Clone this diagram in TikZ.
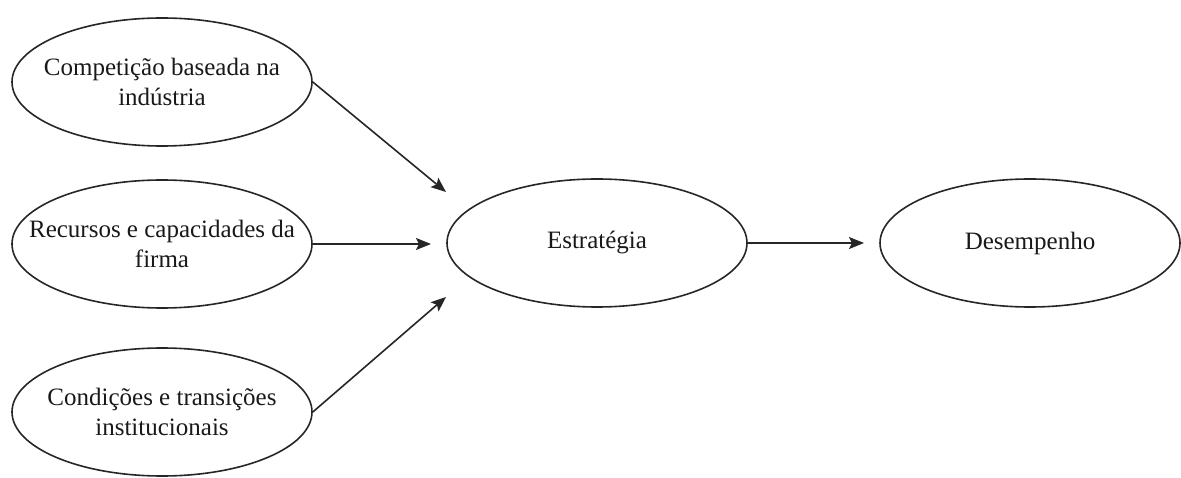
\documentclass[tikz,border=0pt]{standalone}
\usepackage{fontspec}
\setmainfont{Liberation Serif}
\usetikzlibrary{shapes.geometric,arrows.meta}
\tikzset{
  oval/.style={ellipse, draw=black!85, line width=1.6pt, minimum width=300pt, minimum height=128pt, inner xsep=-60pt, inner ysep=0pt, align=center, font=\fontsize{25}{29.5}\selectfont, text=black!90},
  link/.style={draw=black!85, line width=1.6pt, -{Stealth[length=15pt,width=12pt,inset=3pt]}}
}
\begin{document}
\begin{tikzpicture}[x=1pt,y=-1pt]
\useasboundingbox (0,0) rectangle (1181,478);
\node[oval] (comp) at (162,82) {Competição baseada na\\indústria};
\node[oval] (rec) at (162,244) {Recursos e capacidades da\\firma};
\node[oval] (cond) at (162,412) {Condições e transições\\institucionais};
\node[oval] (estr) at (597,243) {Estratégia};
\node[oval] (des) at (1030,243) {Desempenho};
\coordinate (t1) at (446,192);
\coordinate (t2) at (431,244);
\coordinate (t3) at (446,297);
\coordinate (t4) at (864,243);
\draw[link] (comp.east) -- (t1);
\draw[link] (rec.east) -- (t2);
\draw[link] (cond.east) -- (t3);
\draw[link] (estr.east) -- (t4);
\end{tikzpicture}
\end{document}
